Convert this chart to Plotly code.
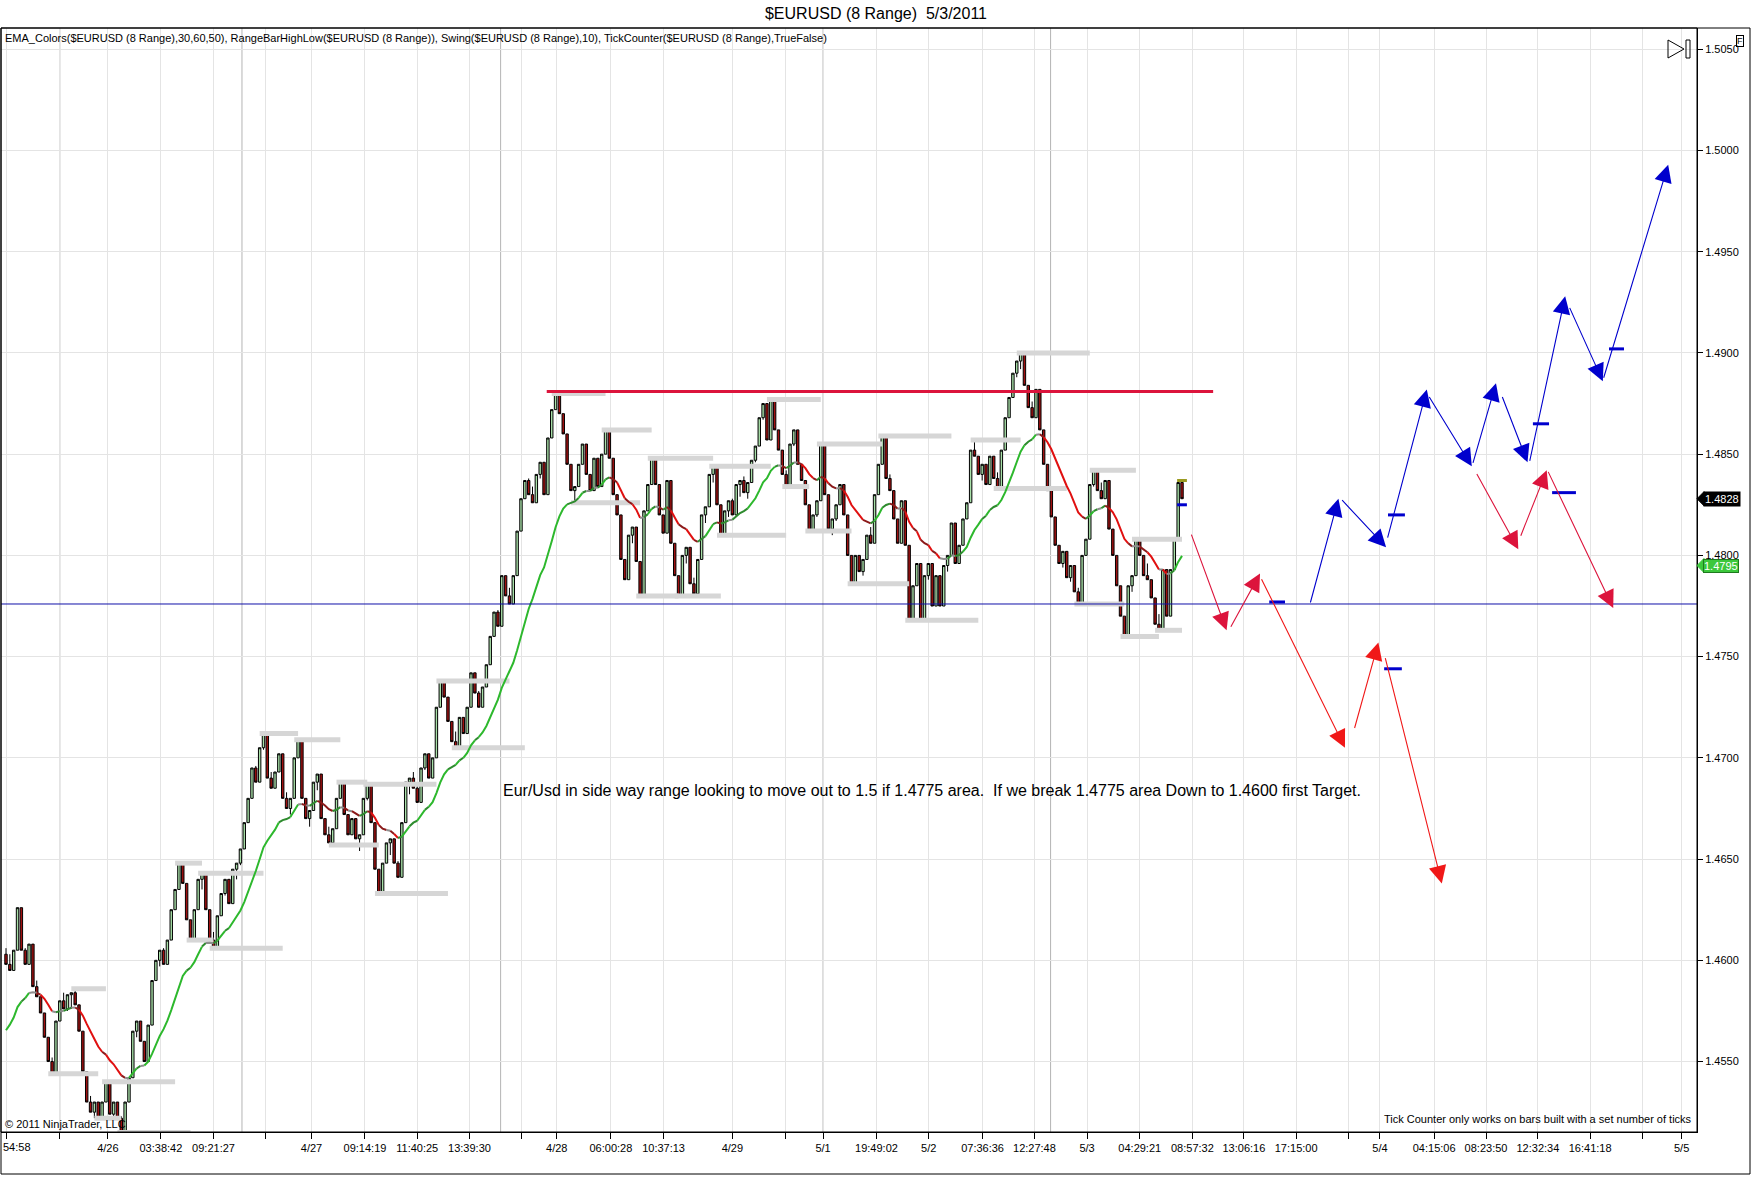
import plotly.graph_objects as go

# ---- data --------------------------------------------------------------
# one close per 8-pip range bar
closes = [
    1.4598, 1.4595, 1.4605, 1.4626, 1.4605, 1.4598, 1.4608, 1.4587, 1.4582, 1.4574,
    1.4562, 1.4550, 1.4544, 1.4570, 1.4580, 1.4576, 1.4583, 1.4584, 1.4578, 1.4565,
    1.4545, 1.4530, 1.4525, 1.4530, 1.4522, 1.4530, 1.4540, 1.4524, 1.4530, 1.4522,
    1.4515, 1.4530, 1.4542, 1.4565, 1.4570, 1.4560, 1.4550, 1.4568, 1.4590, 1.4600,
    1.4605, 1.4598, 1.4610, 1.4625, 1.4635, 1.4648, 1.4638, 1.4620, 1.4610, 1.4625,
    1.4640, 1.4643, 1.4625, 1.4610, 1.4606, 1.4622, 1.4633, 1.4640, 1.4628, 1.4645,
    1.4648, 1.4655, 1.4668, 1.4680, 1.4695, 1.4688, 1.4705,
    1.4712, 1.4690, 1.4685, 1.4693, 1.4702, 1.4680, 1.4675, 1.4680, 1.4700, 1.4709,
    1.4680, 1.4670, 1.4674, 1.4688, 1.4692, 1.4670, 1.4662, 1.4658, 1.4665, 1.4680,
    1.4688, 1.4672, 1.4662, 1.4670, 1.4660, 1.4662, 1.4680, 1.4687, 1.4668, 1.4645,
    1.4633, 1.4648, 1.4658, 1.4660, 1.4648, 1.4641, 1.4668, 1.4688, 1.4690, 1.4685,
    1.4678, 1.4695, 1.4702, 1.4690, 1.4700, 1.4725, 1.4738, 1.4730, 1.4718, 1.4708,
    1.4705, 1.4720, 1.4712, 1.4725, 1.4742, 1.4732, 1.4725, 1.4735, 1.4746, 1.4760,
    1.4772, 1.4765,
    1.4790, 1.4780, 1.4776, 1.4790, 1.4812, 1.4828, 1.4837, 1.4830, 1.4826, 1.4840,
    1.4846, 1.4830, 1.4858, 1.4872, 1.4880, 1.4870, 1.4860, 1.4845, 1.4832, 1.4834,
    1.4845, 1.4855, 1.4840, 1.4832, 1.4848, 1.4834, 1.4850, 1.4862, 1.4848, 1.4830,
    1.4820, 1.4798, 1.4788, 1.4810, 1.4814, 1.4797, 1.4780, 1.4822, 1.4835, 1.4848,
    1.4835, 1.4820, 1.4811, 1.4837, 1.4806, 1.4790, 1.4780, 1.4800, 1.4804, 1.4786,
    1.4781, 1.4798, 1.4820, 1.4824, 1.4840, 1.4844, 1.4825, 1.4810, 1.4822, 1.4827,
    1.4820, 1.4835, 1.4837, 1.4831, 1.4836, 1.4847, 1.4854, 1.4868, 1.4875, 1.4857,
    1.4877, 1.4862, 1.4852, 1.4840, 1.4834, 1.4855, 1.4862, 1.4845, 1.4837, 1.4825,
    1.4812, 1.4820, 1.4827, 1.4855, 1.4830, 1.4813, 1.4818, 1.4825, 1.4835, 1.4820,
    1.4800, 1.4786, 1.4800, 1.4792, 1.4798, 1.4810, 1.4806, 1.4830, 1.4845, 1.4859,
    1.4838, 1.4832, 1.4818, 1.4806, 1.4827, 1.4805, 1.4768, 1.4785, 1.4796, 1.4768,
    1.4790, 1.4796, 1.4775, 1.4790, 1.4775, 1.4795, 1.4800, 1.4816, 1.4796, 1.4805,
    1.4818, 1.4826, 1.4852, 1.4849, 1.4840, 1.4845, 1.4835, 1.4849, 1.4838, 1.4833,
    1.4852, 1.4868, 1.4878, 1.4890, 1.4896, 1.4900, 1.4884, 1.4873, 1.4868, 1.4882,
    1.4862, 1.4845, 1.4832, 1.4819, 1.4805, 1.4796, 1.4802, 1.4789, 1.4795, 1.4782,
    1.4776, 1.4800, 1.4808, 1.4835, 1.4842, 1.4832, 1.4828, 1.4837, 1.4813, 1.4800,
    1.4785, 1.4770, 1.4760, 1.4785, 1.4790, 1.4808, 1.4800, 1.4790, 1.4788, 1.4779,
    1.4766, 1.4763, 1.4793, 1.4770, 1.4793, 1.4808, 1.4836, 1.4828,
]
first_open = 1.4603
bar_range = 0.0008

ema_period = 20
ema_seed = 1.4562
swing_strength = 4

tick_bars = [0.2, 14.0, 26.5, 40.3, 54.0, 67.4, 79.5, 93.4, 107.0, 120.6, 134.1, 143.3,
             157.4, 171.1, 189.0, 202.8, 212.6, 226.5, 240.1, 254.1, 267.6, 281.3, 295.0,
             308.7, 322.1, 335.7, 349.3, 357.5, 371.6, 385.1, 398.6, 412.2, 425.8, 436.0]
tick_labels = ["", "", "4/26", "03:38:42", "09:21:27", "", "4/27", "09:14:19",
               "11:40:25", "13:39:30", "", "4/28", "06:00:28", "10:37:13", "4/29", "",
               "5/1", "19:49:02", "5/2", "07:36:36", "12:27:48", "5/3", "04:29:21",
               "08:57:32", "13:06:16", "17:15:00", "", "5/4", "04:15:06", "08:23:50",
               "12:32:34", "16:41:18", "", "5/5"]
first_tick_label = "54:58"   # clipped at the left edge of the chart
session_bars = [14.0, 61.4, 128.7, 212.6, 271.8]

price_ticks = [1.4550, 1.4600, 1.4650, 1.4700, 1.4750, 1.4800,
               1.4850, 1.4900, 1.4950, 1.5000, 1.5050]

range_high = 1.4881
range_high_bars = [140.7, 314.1]
range_low = 1.4776

# arrows: (tail bar, tail price, head bar, head price)
crimson_arrows = [
    (308.3, 1.4811, 317.6, 1.4763),
    (318.5, 1.4764, 326.3, 1.4791),
    (382.5, 1.4841, 393.5, 1.4803),
    (394.0, 1.4809, 400.9, 1.4842),
    (401.1, 1.4842, 418.2, 1.4774),
]
red_arrows = [
    (326.5, 1.4789, 348.4, 1.4705),
    (350.8, 1.4714, 357.1, 1.4757),
    (358.8, 1.4750, 373.6, 1.4638),
]
blue_arrows = [
    (339.3, 1.4776, 346.7, 1.4828),
    (347.3, 1.4828, 359.1, 1.4804),
    (359.4, 1.4808, 369.7, 1.4882),
    (370.1, 1.4879, 381.4, 1.4844),
    (381.6, 1.4845, 387.7, 1.4885),
    (389.2, 1.4879, 395.9, 1.4846),
    (396.4, 1.4846, 405.7, 1.4928),
    (406.7, 1.4923, 415.5, 1.4886),
    (415.6, 1.4887, 432.5, 1.4993),
]
# (start bar, end bar, price)
blue_dashes = [
    (328.7, 332.8, 1.4777),
    (359.6, 364.0, 1.4820),
    (397.3, 401.5, 1.4865),
    (402.3, 408.5, 1.4831),
    (417.1, 421.0, 1.4902),
    (358.6, 363.2, 1.4744),
]

last_price = 1.4828
last_ema_label = 1.4795

indicator_text = ("EMA_Colors($EURUSD (8 Range),30,60,50), RangeBarHighLow($EURUSD (8 Range)), "
                  "Swing($EURUSD (8 Range),10), TickCounter($EURUSD (8 Range),TrueFalse)")
note_text = ("Eur/Usd in side way range looking to move out to 1.5 if 1.4775 area.\u00a0 "
             "If we break 1.4775 area Down to 1.4600 first Target.")

# ---- build range-bar OHLC ----------------------------------------------
bars = list(range(len(closes)))
opens, highs, lows = [], [], []
prev = first_open
for c in closes:
    if c >= prev:
        hi, lo = c, min(prev, c - bar_range)
    else:
        hi, lo = max(prev, c + bar_range), c
    opens.append(prev)
    highs.append(hi)
    lows.append(lo)
    prev = c

# EMA, coloured by slope
alpha = 2.0 / (ema_period + 1)
ema = []
e = ema_seed
for c in closes:
    e = e + alpha * (c - e)
    ema.append(e)


def slope_color(d):
    if d > 0.00018:
        return "#2DB82D"
    if d > 0.00005:
        return "#2E8B2E"
    if d < -0.00018:
        return "#E01010"
    if d < -0.00005:
        return "#8B1A1A"
    return "#8E8E8E"


# swing highs / lows
n = len(closes)
s = swing_strength
swing_hi, swing_lo = [], []
for i in range(s, n - s):
    if highs[i] == max(highs[i - s:i + s + 1]) and highs[i] > max(highs[i - s:i]):
        swing_hi.append(i)
    if lows[i] == min(lows[i - s:i + s + 1]) and lows[i] < min(lows[i - s:i]):
        swing_lo.append(i)

W, H = 1752, 1177
ML, MR, MT, MB = 1, 55, 28, 45
PW, PH = W - ML - MR, H - MT - MB


def px(x):
    return (x - ML) / PW


def py(y):
    return (H - MB - y) / PH


fig = go.Figure()

# swing lines
for idx_list, series in ((swing_hi, highs), (swing_lo, lows)):
    sx, sy = [], []
    for j, b in enumerate(idx_list):
        end = idx_list[j + 1] if j + 1 < len(idx_list) else n - 1
        end = min(end, b + 18)
        sx += [b - 1, end, None]
        sy += [series[b], series[b], None]
    fig.add_trace(go.Scatter(x=sx, y=sy, mode="lines",
                             line=dict(color="#D6D6D6", width=5),
                             hoverinfo="skip", showlegend=False))

# EMA runs
run_x, run_y, run_c = [0], [ema[0]], slope_color(ema[1] - ema[0])
for i in range(1, n):
    c = slope_color(ema[i] - ema[i - 1])
    if c != run_c:
        fig.add_trace(go.Scatter(x=run_x, y=run_y, mode="lines",
                                 line=dict(color=run_c, width=2),
                                 hoverinfo="skip", showlegend=False))
        run_x, run_y, run_c = [i - 1], [ema[i - 1]], c
    run_x.append(i)
    run_y.append(ema[i])
fig.add_trace(go.Scatter(x=run_x, y=run_y, mode="lines",
                         line=dict(color=run_c, width=2),
                         hoverinfo="skip", showlegend=False))

fig.add_trace(go.Candlestick(
    x=bars, open=opens, high=highs, low=lows, close=closes,
    increasing=dict(fillcolor="#A8E0A8", line=dict(color="#000000", width=1)),
    decreasing=dict(fillcolor="#A01010", line=dict(color="#000000", width=1)),
    showlegend=False, hoverinfo="skip"))

# tick counter marks on the last bar
fig.add_trace(go.Scatter(x=[n - 1], y=[1.4837], mode="markers",
                         marker=dict(symbol="line-ew", size=7,
                                     line=dict(color="#9A9A20", width=3)),
                         showlegend=False, hoverinfo="skip"))
fig.add_trace(go.Scatter(x=[n - 1], y=[1.4825], mode="markers",
                         marker=dict(symbol="line-ew", size=7,
                                     line=dict(color="#0000CD", width=3)),
                         showlegend=False, hoverinfo="skip"))

# range lines
fig.add_trace(go.Scatter(x=[-2, 460], y=[range_low, range_low], mode="lines",
                         line=dict(color="#1010A8", width=1),
                         showlegend=False, hoverinfo="skip"))
fig.add_trace(go.Scatter(x=range_high_bars, y=[range_high, range_high], mode="lines",
                         line=dict(color="#DC143C", width=3),
                         showlegend=False, hoverinfo="skip"))

# blue dashes
dx, dy = [], []
for x0, x1, yv in blue_dashes:
    dx += [x0, x1, None]
    dy += [yv, yv, None]
fig.add_trace(go.Scatter(x=dx, y=dy, mode="lines",
                         line=dict(color="#0000CD", width=3),
                         showlegend=False, hoverinfo="skip"))

annotations = []
for arr, col in ((crimson_arrows, "#DC143C"), (red_arrows, "#F01818"),
                 (blue_arrows, "#0000CD")):
    for x0, y0, x1, y1 in arr:
        annotations.append(dict(x=x1, y=y1, ax=x0, ay=y0, xref="x", yref="y",
                                axref="x", ayref="y", text="", showarrow=True,
                                arrowhead=2, arrowsize=3.2, arrowwidth=1.1,
                                arrowcolor=col, standoff=0))

annotations += [
    dict(x=241.0, y=1.4684, xref="x", yref="y", text=note_text, showarrow=False,
         font=dict(size=16, color="#000000")),
    dict(x=px(3), y=py(38), xref="paper", yref="paper", text=indicator_text,
         showarrow=False, xanchor="left", yanchor="middle",
         font=dict(size=11, color="#000000")),
    dict(x=px(3), y=py(1124), xref="paper", yref="paper", text="© 2011 NinjaTrader, LLC",
         showarrow=False, xanchor="left", yanchor="middle",
         font=dict(size=11, color="#000000")),
    dict(x=px(1694), y=py(1119), xref="paper", yref="paper",
         text="Tick Counter only works on bars built with a set number of ticks",
         showarrow=False, xanchor="right", yanchor="middle",
         font=dict(size=11, color="#000000")),
    dict(x=0, y=py(1147), xref="paper", yref="paper", text=first_tick_label,
         showarrow=False, xanchor="left", yanchor="middle",
         font=dict(size=11, color="#000000")),
    dict(x=px(1703), y=last_price, xref="paper", yref="y", text="1.4828",
         showarrow=False, xanchor="left", yanchor="middle", bgcolor="#000000",
         borderpad=1, font=dict(size=11, color="#FFFFFF")),
    dict(x=px(1703), y=last_ema_label, xref="paper", yref="y", text="1.4795",
         showarrow=False, xanchor="left", yanchor="middle", bgcolor="#3CC83C",
         bordercolor="#1E7A1E", borderwidth=1, borderpad=0,
         font=dict(size=11, color="#FFFFFF")),
    dict(x=px(1744), y=py(35), xref="paper", yref="paper", text="F",
         showarrow=False, bordercolor="#000000", borderwidth=1, borderpad=0,
         font=dict(size=9, color="#000000")),
]

shapes = []
for b in session_bars:
    shapes.append(dict(type="line", xref="x", yref="paper", x0=b, x1=b, y0=0, y1=1,
                       line=dict(color="#B4B4B4", width=1), layer="below"))
# plot frame and outer frame
shapes.append(dict(type="rect", xref="paper", yref="paper", x0=0, x1=1, y0=0, y1=1,
                   line=dict(color="#000000", width=1)))
shapes.append(dict(type="rect", xref="paper", yref="paper", x0=px(1), x1=px(1750),
                   y0=py(1174), y1=1, line=dict(color="#000000", width=1)))
# end-of-chart icon
shapes.append(dict(type="path", xref="paper", yref="paper",
                   path=f"M {px(1668)},{py(40)} L {px(1668)},{py(58)} L {px(1684)},{py(49)} Z",
                   line=dict(color="#000000", width=1)))
shapes.append(dict(type="rect", xref="paper", yref="paper", x0=px(1686), x1=px(1690),
                   y0=py(58), y1=py(40), line=dict(color="#000000", width=1)))
# pointer tips of the price labels
for yv, col in ((last_price, "#000000"), (last_ema_label, "#3CC83C")):
    shapes.append(dict(type="path", xref="paper", yref="y",
                       path=f"M {px(1697)},{yv} L {px(1704)},{yv + 0.00035} L {px(1704)},{yv - 0.00035} Z",
                       fillcolor=col, line=dict(color=col, width=1)))

fig.update_layout(
    width=W, height=H,
    margin=dict(l=ML, r=MR, t=MT, b=MB),
    paper_bgcolor="#FFFFFF", plot_bgcolor="#FFFFFF",
    font=dict(family="Liberation Sans, Arial, sans-serif", size=11, color="#000000"),
    title=dict(text="$EURUSD (8 Range)\u00a0 5/3/2011", x=0.5, xref="container",
               y=1 - 13 / H, yref="container", xanchor="center", yanchor="middle",
               font=dict(size=16, color="#000000")),
    showlegend=False,
    boxgap=0.1,
    xaxis=dict(range=[-1.3, 440.0], tickmode="array", tickvals=tick_bars,
               ticktext=tick_labels, ticks="outside", ticklen=6, tickcolor="#000000",
               showgrid=True, gridcolor="#E4E4E4", gridwidth=1, zeroline=False,
               showline=True, linecolor="#000000", rangeslider=dict(visible=False),
               tickfont=dict(size=11)),
    yaxis=dict(range=[1.45152, 1.50605], side="right", tickmode="array",
               tickvals=price_ticks, ticktext=[f"{v:.4f}" for v in price_ticks],
               ticks="outside", ticklen=5, tickcolor="#000000", showgrid=True,
               gridcolor="#E4E4E4", zeroline=False, showline=True,
               linecolor="#000000", tickfont=dict(size=11)),
    annotations=annotations,
    shapes=shapes,
)

# drop the page's default body margin so the figure fills the window
fig.write_html("out.html", config={"displayModeBar": False},
               post_script="document.body.style.margin='0';")
